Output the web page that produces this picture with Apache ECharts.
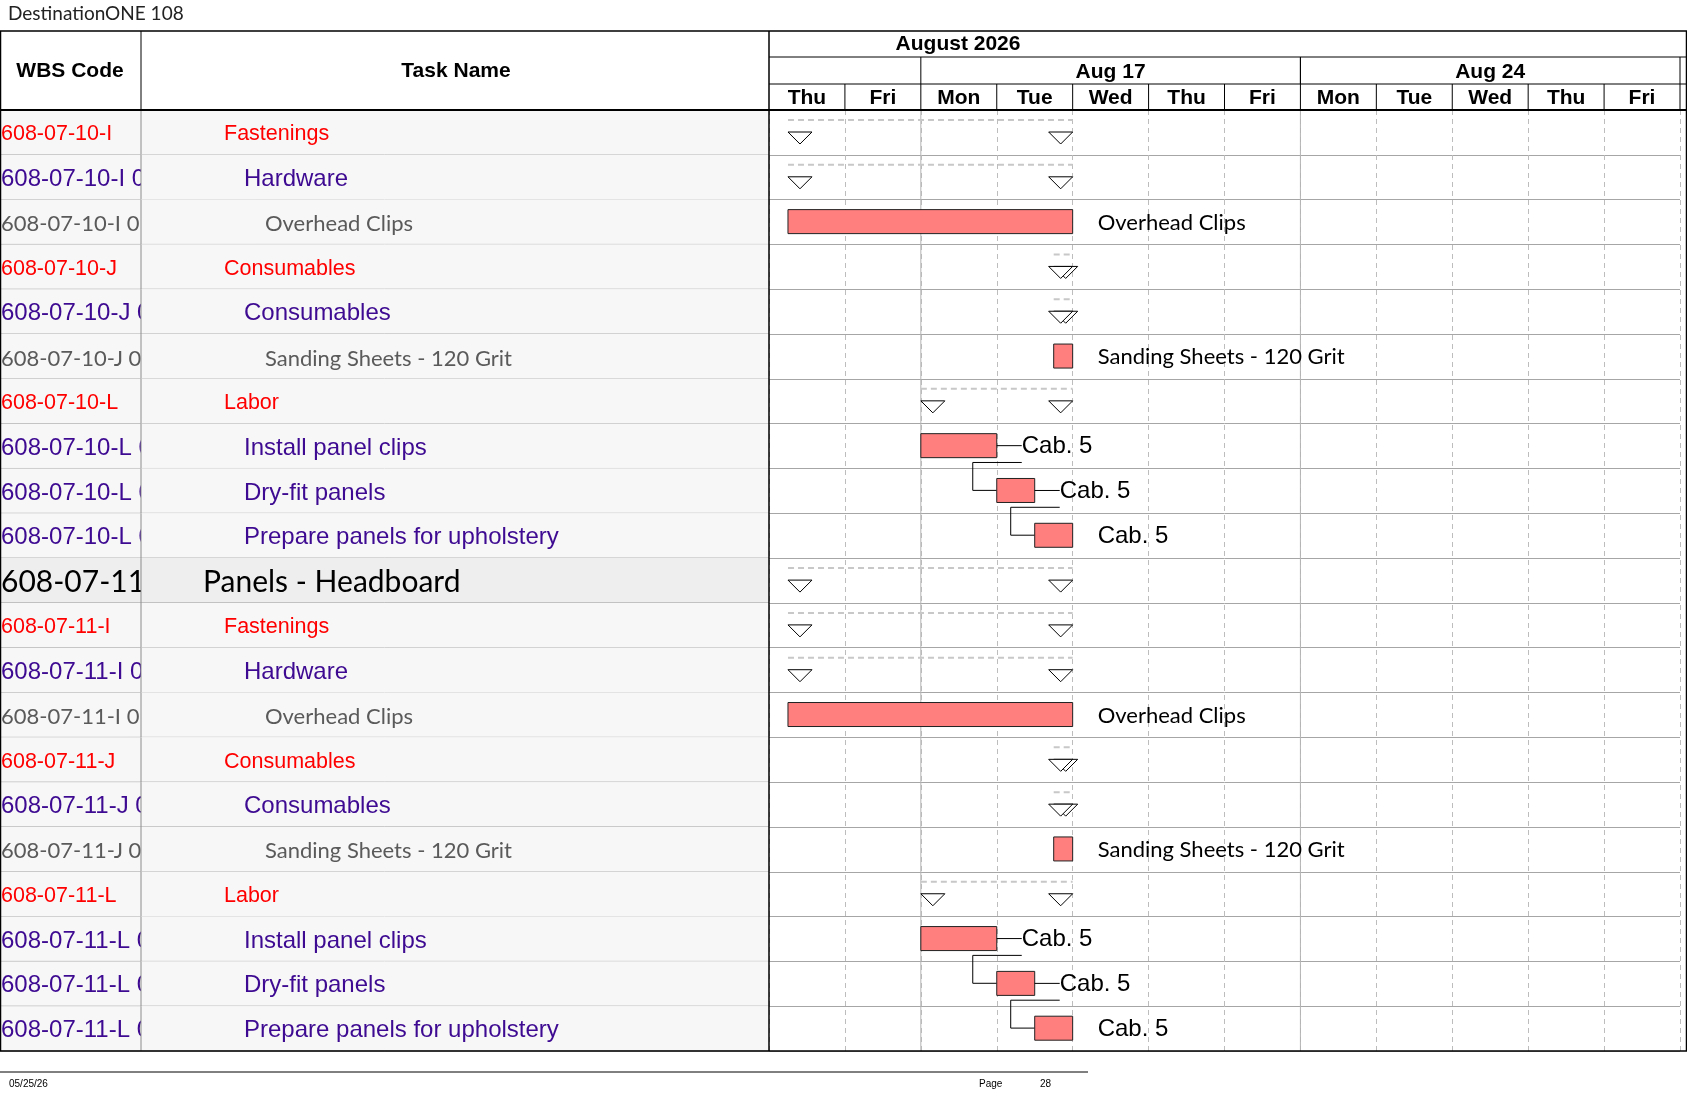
<!DOCTYPE html>
<html><head><meta charset="utf-8">
<script src="https://cdn.jsdelivr.net/npm/echarts@6/dist/echarts.min.js"></script>
<style>html,body{margin:0;padding:0;background:#fff}#c{width:1687px;height:1097px}</style>
</head><body><div id="c"></div>
<script>
const wbsCodes = ['608-07-10-I','608-07-10-I 01','608-07-10-I 01 01','608-07-10-J','608-07-10-J 01','608-07-10-J 01 01','608-07-10-L','608-07-10-L 01','608-07-10-L 02','608-07-10-L 03',
  '608-07-11','608-07-11-I','608-07-11-I 01','608-07-11-I 01 01','608-07-11-J','608-07-11-J 01','608-07-11-J 01 01','608-07-11-L','608-07-11-L 01','608-07-11-L 02','608-07-11-L 03'];
const taskNames = ['Fastenings','Hardware','Overhead Clips','Consumables','Consumables','Sanding Sheets - 120 Grit','Labor','Install panel clips','Dry-fit panels','Prepare panels for upholstery',
  'Panels - Headboard','Fastenings','Hardware','Overhead Clips','Consumables','Consumables','Sanding Sheets - 120 Grit','Labor','Install panel clips','Dry-fit panels','Prepare panels for upholstery'];
const levels = [1,2,3,1,2,3,1,2,2,2, 0,1,2,3,1,2,3,1,2,2,2];
const isSummary = [1,1,0,1,1,0,1,0,0,0, 1,1,1,0,1,1,0,1,0,0,0];
const starts = [0.25,0.25,0.25,3.75,3.75,3.75,2,2,3,3.5, 0.25,0.25,0.25,0.25,3.75,3.75,3.75,2,2,3,3.5];
const ends   = [4,4,4,4,4,4,4,3,3.5,4, 4,4,4,4,4,4,4,4,3,3.5,4];
const barLabels = ['','','Overhead Clips','','','Sanding Sheets - 120 Grit','','Cab. 5','Cab. 5','Cab. 5',
  '','','','Overhead Clips','','','Sanding Sheets - 120 Grit','','Cab. 5','Cab. 5','Cab. 5'];
const predecessor = [-1,-1,-1,-1,-1,-1,-1,-1,7,8, -1,-1,-1,-1,-1,-1,-1,-1,-1,18,19];
const dayLabels = ['Thu','Fri','Mon','Tue','Wed','Thu','Fri','Mon','Tue','Wed','Thu','Fri'];
const weekLabels = ['Aug 17','Aug 24'];
const weekStarts = [2,7];
const monthLabel = 'August 2026';

const N = wbsCodes.length;
const ARIAL = '"Liberation Sans", Arial, sans-serif';
const CAL = 'Lato, "Open Sans", sans-serif';
const lvlColor = ['#000000','#ff0000','#3d0a91','#5a5a5a'];
const lvlSize = [30,21.5,24,22];
const lvlFont = [CAL,ARIAL,ARIAL,CAL];
const lvlIndent = [203,224,244,265];
const rows = wbsCodes.map((_,i)=>[i]);
const yCats = wbsCodes.map((_,i)=>String(i));

const chart = echarts.init(document.getElementById('c'));

function leftItem(params, api){
  const i = api.value(0);
  const c = api.coord([0, i]);
  const h = api.size([0,1])[1];
  const top = c[1]-h/2;
  const x0 = api.coord([0,0])[0], x1 = api.coord([141,0])[0], x2 = api.coord([769,0])[0];
  const bg = levels[i]===0 ? '#eeeeee' : '#f7f7f7';
  const lv = levels[i];
  return {type:'group', children:[
    {type:'rect', shape:{x:x0,y:top,width:x2-x0,height:h}, style:{fill:bg}},
    {type:'text', x:x0+1, y:c[1]+2, style:{text:wbsCodes[i], fill:lvlColor[lv], font:`${lvlSize[lv]}px ${lvlFont[lv]}`, verticalAlign:'middle'}},
    {type:'rect', shape:{x:x1,y:top,width:x2-x1,height:h}, style:{fill:bg}},
    {type:'text', x:api.coord([lvlIndent[lv],0])[0], y:c[1]+2, style:{text:taskNames[i], fill:lvlColor[lv], font:`${lvlSize[lv]}px ${lvlFont[lv]}`, verticalAlign:'middle'}},
    {type:'line', shape:{x1:x0,y1:top+h,x2:x2,y2:top+h}, style:{stroke:'#a6a6a6',lineWidth:1}},
    {type:'line', shape:{x1:x1,y1:top,x2:x1,y2:top+h}, style:{stroke:'#8c8c8c',lineWidth:1}}
  ]};
}

function tri(x, y, w, hh){
  return {type:'polygon', shape:{points:[[x,y],[x+w,y],[x+w/2,y+hh]]}, style:{fill:'#fff',stroke:'#000',lineWidth:1}};
}

function ganttItem(params, api){
  const i = api.value(0);
  const c = api.coord([starts[i], i]);
  const h = api.size([0,1])[1];
  const top = c[1]-h/2;
  const xs = c[0], xe = api.coord([ends[i], i])[0];
  const ch = [];
  if (isSummary[i]) {
    ch.push({type:'line', shape:{x1:xs,y1:top+10,x2:xe,y2:top+10}, style:{stroke:'#c8c8c8',lineWidth:2,lineDash:[6,4]}});
    ch.push(tri(xs, top+22, 24, 12));
    ch.push(tri(xe-24, top+22, 24, 12));
  } else {
    ch.push({type:'rect', shape:{x:xs,y:top+10,width:xe-xs,height:24}, style:{fill:'#ff7f7f',stroke:'#222',lineWidth:1}});
    const lab = barLabels[i];
    const isCab = lab.indexOf('Cab')===0;
    ch.push({type:'text', x:xe+25, y:top+23, style:{text:lab, fill:'#000', font: isCab?`24px ${ARIAL}`:`22px ${CAL}`, verticalAlign:'middle'}});
    const succ = predecessor.indexOf(i);
    if (succ>=0) {
      ch.push({type:'line', shape:{x1:xe,y1:top+22,x2:xe+25,y2:top+22}, style:{stroke:'#000',lineWidth:1}});
      const s2 = api.coord([starts[succ], succ]);
      const cx = xe-24, yb = top+h-6;
      ch.push({type:'polyline', shape:{points:[[xe+25,yb],[cx,yb],[cx,s2[1]-0.5],[s2[0],s2[1]-0.5]]}, style:{stroke:'#000',lineWidth:1,fill:null}});
    }
  }
  return {type:'group', children:ch};
}

function headerItem(params, api){
  const d = api.value(0);
  const xa = api.coord([d, 0])[0], xb = api.coord([d+1, 0])[0];
  return {type:'group', children:[
    {type:'text', x:(xa+xb)/2, y:98, style:{text:dayLabels[d], font:`bold 21px ${ARIAL}`, fill:'#000', align:'center', verticalAlign:'middle'}},
    {type:'line', shape:{x1:xb,y1:84,x2:xb,y2:110}, style:{stroke:'#000',lineWidth:1}}
  ]};
}

function weekHeaderItem(params, api){
  const w = api.value(0);
  const s = weekStarts[w];
  const xa = api.coord([s,0])[0], xb = api.coord([s+5,0])[0];
  const y0 = api.coord([0,0])[1]; const y1 = api.coord([0,N-1])[1]; const hh = api.size([0,1])[1];
  return {type:'group', children:[
    {type:'line', shape:{x1:xa,y1:57,x2:xa,y2:84}, style:{stroke:'#000',lineWidth:1}},
    {type:'line', shape:{x1:xb,y1:57,x2:xb,y2:84}, style:{stroke:'#000',lineWidth:1}},
    {type:'text', x:(xa+xb)/2, y:72, style:{text:weekLabels[w], font:`bold 21px ${ARIAL}`, fill:'#000', align:'center', verticalAlign:'middle'}},
    {type:'line', shape:{x1:xa,y1:y0-hh/2,x2:xa,y2:y1+hh/2}, style:{stroke:'#b4b4b4',lineWidth:1}}
  ]};
}

chart.setOption({
  animation:false,
  grid:[
    {left:0, top:110, width:769, bottom:46},
    {left:769, top:110, width:911, bottom:46}
  ],
  xAxis:[
    {gridIndex:0, type:'value', min:0, max:769, show:false},
    {gridIndex:1, type:'value', min:0, max:12, interval:1, axisLine:{show:false}, axisTick:{show:false}, axisLabel:{show:false},
      splitLine:{show:true, lineStyle:{color:'#bdbdbd', type:[5,4], width:1}}}
  ],
  yAxis:[
    {gridIndex:0, type:'category', data:yCats, inverse:true, show:false},
    {gridIndex:1, type:'category', data:yCats, inverse:true, axisLine:{show:false}, axisTick:{show:false}, axisLabel:{show:false},
      splitLine:{show:true, lineStyle:{color:'#a6a6a6', width:1}}}
  ],
  series:[
    {type:'custom', xAxisIndex:0, yAxisIndex:0, data:rows, renderItem:leftItem, clip:false, silent:true},
    {type:'custom', xAxisIndex:1, yAxisIndex:1, data:weekStarts.map((_,i)=>[i]), renderItem:weekHeaderItem, clip:false, silent:true, z:1},
    {type:'custom', xAxisIndex:1, yAxisIndex:1, data:dayLabels.map((_,i)=>[i]), renderItem:headerItem, clip:false, silent:true},
    {type:'custom', xAxisIndex:1, yAxisIndex:1, data:rows, renderItem:ganttItem, clip:false, silent:true, z:5}
  ],
  graphic:[
    {type:'text', left:8, top:4, style:{text:'DestinationONE 108', font:`19px ${CAL}`, fill:'#222'}},
    {type:'rect', shape:{x:0.5,y:31,width:1686,height:1020}, style:{fill:null, stroke:'#000', lineWidth:1.5}, z:10},
    {type:'line', shape:{x1:0,y1:110,x2:1687,y2:110}, style:{stroke:'#000',lineWidth:2}, z:10},
    {type:'line', shape:{x1:769,y1:57,x2:1687,y2:57}, style:{stroke:'#000',lineWidth:1}, z:10},
    {type:'line', shape:{x1:769,y1:84,x2:1687,y2:84}, style:{stroke:'#000',lineWidth:1}, z:10},
    {type:'line', shape:{x1:141,y1:31,x2:141,y2:110}, style:{stroke:'#000',lineWidth:1}, z:10},
    {type:'line', shape:{x1:769,y1:31,x2:769,y2:1051}, style:{stroke:'#000',lineWidth:1.5}, z:10},
    {type:'text', x:70, y:71, style:{text:'WBS Code', font:`bold 21px ${ARIAL}`, fill:'#000', align:'center', verticalAlign:'middle'}, z:10},
    {type:'text', x:456, y:71, style:{text:'Task Name', font:`bold 21px ${ARIAL}`, fill:'#000', align:'center', verticalAlign:'middle'}, z:10},
    {type:'text', x:958, y:44, style:{text:monthLabel, font:`bold 21px ${ARIAL}`, fill:'#000', align:'center', verticalAlign:'middle'}, z:10},
    {type:'line', shape:{x1:0,y1:1072,x2:1088,y2:1072}, style:{stroke:'#000',lineWidth:1}},
    {type:'text', x:9, y:1084, style:{text:'05/25/26', font:`10px ${ARIAL}`, fill:'#000', verticalAlign:'middle'}},
    {type:'text', x:979, y:1084, style:{text:'Page', font:`10px ${ARIAL}`, fill:'#000', verticalAlign:'middle'}},
    {type:'text', x:1040, y:1084, style:{text:'28', font:`10px ${ARIAL}`, fill:'#000', verticalAlign:'middle'}}
  ]
});
</script></body></html>
